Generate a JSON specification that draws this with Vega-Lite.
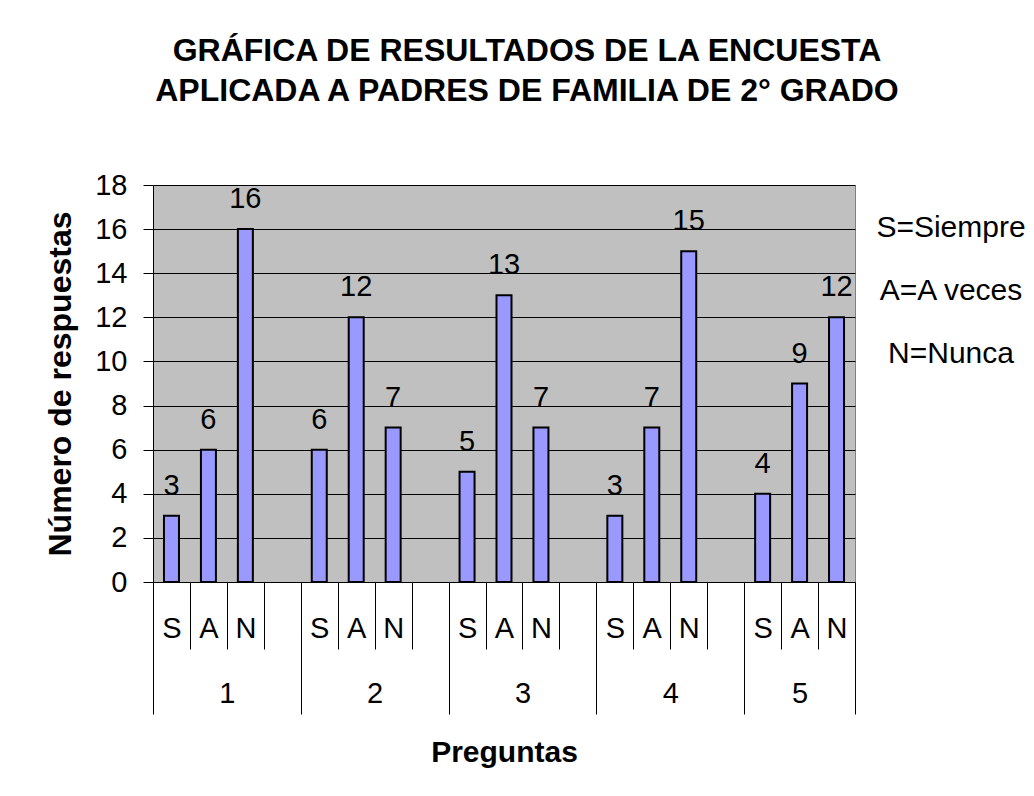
{
  "$schema": "https://vega.github.io/schema/vega-lite/v6.json",
  "width": 702,
  "height": 397,
  "autosize": {"type": "none"},
  "padding": {"left": 153, "top": 185, "right": 179, "bottom": 214},
  "background": "#FFFFFF",
  "config": {
    "font": "Liberation Sans",
    "view": {"stroke": "#808080", "strokeWidth": 1, "fill": "#C0C0C0"}
  },
  "title": {
    "text": ["GRÁFICA DE RESULTADOS DE LA ENCUESTA", "APLICADA A PADRES DE FAMILIA DE 2° GRADO"],
    "font": "Liberation Sans",
    "fontSize": 32,
    "fontWeight": "bold",
    "color": "#000000",
    "lineHeight": 40,
    "anchor": "middle",
    "frame": "group",
    "dx": 23,
    "offset": 63
  },
  "data": {
    "values": [
      {"pregunta": 1, "resp": "S", "slot": 1, "valor": 3},
      {"pregunta": 1, "resp": "A", "slot": 2, "valor": 6},
      {"pregunta": 1, "resp": "N", "slot": 3, "valor": 16},
      {"pregunta": 2, "resp": "S", "slot": 5, "valor": 6},
      {"pregunta": 2, "resp": "A", "slot": 6, "valor": 12},
      {"pregunta": 2, "resp": "N", "slot": 7, "valor": 7},
      {"pregunta": 3, "resp": "S", "slot": 9, "valor": 5},
      {"pregunta": 3, "resp": "A", "slot": 10, "valor": 13},
      {"pregunta": 3, "resp": "N", "slot": 11, "valor": 7},
      {"pregunta": 4, "resp": "S", "slot": 13, "valor": 3},
      {"pregunta": 4, "resp": "A", "slot": 14, "valor": 7},
      {"pregunta": 4, "resp": "N", "slot": 15, "valor": 15},
      {"pregunta": 5, "resp": "S", "slot": 17, "valor": 4},
      {"pregunta": 5, "resp": "A", "slot": 18, "valor": 9},
      {"pregunta": 5, "resp": "N", "slot": 19, "valor": 12}
    ]
  },
  "encoding": {
    "y": {
      "field": "valor",
      "type": "quantitative",
      "scale": {"domain": [0, 18], "nice": false, "zero": true},
      "axis": {
        "title": "Número de respuestas",
        "titleFont": "Liberation Sans",
        "titleFontSize": 32,
        "titleFontWeight": "bold",
        "titleColor": "#000000",
        "titlePadding": 17,
        "values": [0, 2, 4, 6, 8, 10, 12, 14, 16, 18],
        "labelFont": "Liberation Sans",
        "labelFontSize": 29,
        "labelColor": "#000000",
        "labelPadding": 16,
        "tickSize": 10,
        "tickColor": "#000000",
        "domainColor": "#000000",
        "grid": true,
        "gridColor": "#000000",
        "gridWidth": 1,
        "gridOpacity": 1
      }
    }
  },
  "layer": [
    {
      "mark": {"type": "bar", "orient": "vertical", "width": 15, "stroke": "#000000", "strokeWidth": 2},
      "encoding": {
        "x": {
          "field": "slot",
          "type": "quantitative",
          "scale": {"domain": [0.5, 19.5], "nice": false, "zero": false, "padding": 0},
          "axis": {
            "orient": "bottom",
            "title": null,
            "values": [0.5, 1.5, 2.5, 3.5, 4.5, 5.5, 6.5, 7.5, 8.5, 9.5, 10.5, 11.5, 12.5, 13.5, 14.5, 15.5, 16.5, 17.5, 18.5, 19.5],
            "labels": false,
            "grid": false,
            "domain": true,
            "domainColor": "#000000",
            "tickColor": "#000000",
            "tickWidth": 1,
            "tickSize": {"condition": {"test": "datum.value == 0.5 || datum.value == 4.5 || datum.value == 8.5 || datum.value == 12.5 || datum.value == 16.5 || datum.value == 19.5", "value": 132}, "value": 67}
          }
        },
        "color": {
          "field": "resp",
          "type": "nominal",
          "scale": {"domain": ["S", "A", "N"], "range": ["#9999FF", "#9999FF", "#9999FF"]},
          "legend": {
            "orient": "none",
            "legendX": 768,
            "legendY": 28,
            "title": null,
            "padding": 0,
            "symbolOpacity": 0,
            "symbolSize": 0,
            "symbolStrokeWidth": 0,
            "labelOffset": 0,
            "labelAlign": "center",
            "labelFont": "Liberation Sans",
            "labelFontSize": 30,
            "labelColor": "#000000",
            "labelLimit": 0,
            "rowPadding": 33,
            "labelExpr": "datum.label == 'S' ? 'S=Siempre' : datum.label == 'A' ? 'A=A veces' : 'N=Nunca'"
          }
        }
      }
    },
    {
      "mark": {"type": "text", "baseline": "alphabetic", "align": "center", "dy": -21, "fontSize": 29, "font": "Liberation Sans", "color": "#000000"},
      "encoding": {
        "x": {
          "field": "slot",
          "type": "quantitative",
          "scale": {"domain": [0.5, 19.5], "nice": false, "zero": false, "padding": 0},
          "axis": {
            "orient": "bottom",
            "title": "Preguntas",
            "titleFont": "Liberation Sans",
            "titleFontSize": 30,
            "titleFontWeight": "bold",
            "titleColor": "#000000",
            "titlePadding": 29,
            "values": [1, 2, 3, 5, 6, 7, 9, 10, 11, 13, 14, 15, 17, 18, 19, 2.5, 6.5, 10.5, 14.5, 18.001],
            "labelExpr": "datum.value % 1 == 0 ? ['S','A','N'][(datum.value - 1) % 4] : '' + (floor(datum.value / 4) + 1)",
            "labelFont": "Liberation Sans",
            "labelFontSize": 29,
            "labelColor": "#000000",
            "labelBaseline": "middle",
            "labelOverlap": false,
            "labelFlush": false,
            "labelBound": false,
            "labelPadding": {"condition": {"test": "datum.value % 1 == 0", "value": 46}, "value": 111},
            "ticks": false,
            "tickSize": 0,
            "domain": false,
            "grid": false
          }
        },
        "text": {"field": "valor", "type": "quantitative"}
      }
    }
  ],
  "resolve": {"axis": {"x": "independent"}}
}
